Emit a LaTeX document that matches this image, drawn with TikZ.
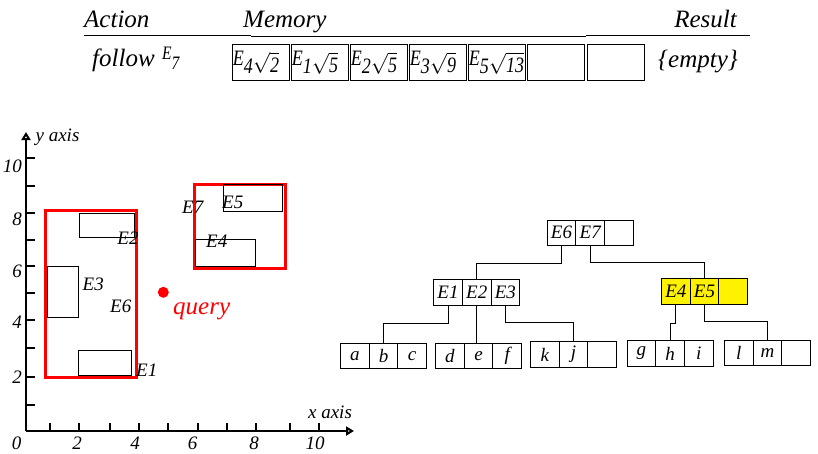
\documentclass[tikz,border=0pt]{standalone}
\usepackage{fontspec}
\setmainfont{Liberation Serif}
\newfontfamily\memfont{Liberation Serif}[FakeStretch=0.82]
\usetikzlibrary{positioning,arrows.meta}

% 内存单元中的 E_i \sqrt{d}
\newcommand{\memE}[2]{E\raisebox{-8pt}{#1}\raisebox{-7pt}{$\sqrt{\mbox{\memfont\itshape #2}\rule{0pt}{17pt}}$}}

\tikzset{
  head/.style={font=\itshape\fontsize{25}{25}\selectfont, inner sep=0pt},
  memcell/.style={draw, line width=0.8pt, minimum width=57.5pt, minimum height=36.5pt,
    inner xsep=0.5pt, inner ysep=0pt, outer sep=0pt, text width=56pt, align=left,
    font=\memfont\itshape\fontsize{22}{22}\selectfont},
  cell/.style={draw, line width=0.8pt, minimum width=28.7pt, minimum height=25.3pt,
    inner sep=0pt, outer sep=0pt, font=\itshape\fontsize{19}{19}\selectfont},
  hl/.style={cell, fill=yellow},
  edge/.style={line width=0.8pt},
  axis/.style={line width=2pt},
  obj/.style={draw, line width=0.9pt},
  mbr/.style={draw=red, line width=3pt},
  lbl/.style={font=\itshape\fontsize{19}{19}\selectfont, inner sep=0pt},
}

\begin{document}
\begin{tikzpicture}[x=1pt,y=-1pt]
\useasboundingbox (0,0) rectangle (818,453);

% 表头
\node[head, anchor=base west] (action) at (84,27.3) {Action};
\node[head, anchor=base west] (memory) at (243,27.3) {Memory};
\node[head, anchor=base east] (result) at (737,27) {Result};
\draw[edge] (84,35) -- (251,35);
\draw[edge] (251,36.5) -- (586,36.5);
\draw[edge] (586,35.5) -- (750,35.5);

% 第一行
\node[head, anchor=base west] (follow) at (92,66.7) {follow};
\node[lbl, anchor=base west, font=\memfont\itshape\fontsize{19}{19}\selectfont] (e7) at (162,59) {E\raisebox{-10pt}{7}};
\node[memcell, anchor=north west] (c1) at (232,44.3) {\memE{4}{2}};
\node[memcell, right=1.5pt of c1] (c2) {\memE{1}{5}};
\node[memcell, right=1.5pt of c2] (c3) {\memE{2}{5}};
\node[memcell, right=1.5pt of c3] (c4) {\memE{3}{9}};
\node[memcell, right=1.5pt of c4] (c5) {\memE{5}{13}};
\node[memcell, right=1.5pt of c5] (c6) {};
\node[memcell, right=2.5pt of c6] (c7) {};
\node[head, anchor=base west] (res) at (658,67) {\{empty\}};

% 坐标轴
\draw[axis, -{Triangle[open, length=8pt, width=9pt]}] (26,431) -- (26,132);
\draw[axis, -{Triangle[open, length=8pt, width=9pt]}] (26,431) -- (354,431);
\foreach \x in {50,78.7,110,138.7,167.7,197.7,226.7,256,290,319}
  \draw[axis] (\x,431) -- (\x,423);
\foreach \y in {158.3,186,213.3,240,266,292.7,320,348,376.7,405}
  \draw[axis] (26,\y) -- (35,\y);
\foreach \t/\y in {10/166.7,8/219,6/271.7,4/322.7,2/377}
  \node[lbl, anchor=east] (ty\t) at (22,\y) {\t};
\foreach \t/\x in {0/16.7,2/77,4/135,6/192.7,8/254,10/315}
  \node[lbl] (tx\t) at (\x,443) {\t};
\node[lbl] (ylab) at (57.5,137) {y axis};
\node[lbl] (xlab) at (330,412) {x axis};

% 数据矩形
\draw[mbr] (45,210.7) rectangle (136,377.3); % E6
\draw[mbr] (194,184) rectangle (285,268); % E7
\draw[obj] (79.3,213.3) rectangle (134.7,237.3); % E2
\draw[obj] (47.7,266) rectangle (78.7,317.3); % E3
\draw[obj] (78.3,350) rectangle (131.7,375.7); % E1
\draw[obj] (223.3,184.3) rectangle (282.7,211.3); % E5
\draw[obj] (195.3,239.3) rectangle (255,266); % E4

% 标签
\node[lbl] (le2) at (128,238.3) {E2};
\node[lbl] (le3) at (93.3,284) {E3};
\node[lbl] (le6) at (120.7,306.7) {E6};
\node[lbl] (le1) at (146.7,370.7) {E1};
\node[lbl] (le7) at (192.7,207.3) {E7};
\node[lbl] (le5) at (232.7,202.7) {E5};
\node[lbl] (le4) at (216.7,241.7) {E4};

% 查询点
\fill[red] (163.3,292.3) circle (5.5pt);
\node[lbl, text=red, font=\itshape\fontsize{25}{25}\selectfont] (query) at (201.7,311.7) {query};

% R 树: 根结点
\node[cell] (r1) at (561.5,232.7) {E6};
\node[cell, right=0pt of r1] (r2) {E7};
\node[cell, right=0pt of r2] (r3) {};

% 中间层
\node[cell] (m1) at (448,292.5) {E1};
\node[cell, right=0pt of m1] (m2) {E2};
\node[cell, right=0pt of m2] (m3) {E3};
\node[hl] (n1) at (675.8,291.3) {E4};
\node[hl, right=0pt of n1] (n2) {E5};
\node[hl, right=0pt of n2] (n3) {};

% 叶子结点
\node[cell] (la) at (354.8,355.8) {a};
\node[cell, right=0pt of la] (lb) {b};
\node[cell, right=0pt of lb] (lc) {c};
\node[cell] (ld) at (449.8,355.8) {d};
\node[cell, right=0pt of ld] (le) {e};
\node[cell, right=0pt of le] (lf) {f};
\node[cell] (lk) at (544.8,354.5) {k};
\node[cell, right=0pt of lk] (lj) {j};
\node[cell, right=0pt of lj] (lx) {};
\node[cell] (lg) at (641.3,353.5) {g};
\node[cell, right=0pt of lg] (lh) {h};
\node[cell, right=0pt of lh] (li) {i};
\node[cell] (ll) at (738.8,353) {l};
\node[cell, right=0pt of ll] (lm) {m};
\node[cell, right=0pt of lm] (ly) {};

% 连线
\draw[edge] (r1.south) -- ++(0,18) -| (m2.north);
\draw[edge] (r2.south) -- ++(0,17) -| (n2.north);
\draw[edge] (m1.south) -- ++(0,18.6) -| (lb.north);
\draw[edge] (m2.south) -- (m2.south |- le.north);
\draw[edge] (m3.south) -- ++(0,17.6) -| (lj.north);
\draw[edge] (n1.south) -- ++(0,19.7) -| (lh.north);
\draw[edge] (n2.south) -- ++(0,17.4) -| (lm.north);

\end{tikzpicture}
\end{document}
